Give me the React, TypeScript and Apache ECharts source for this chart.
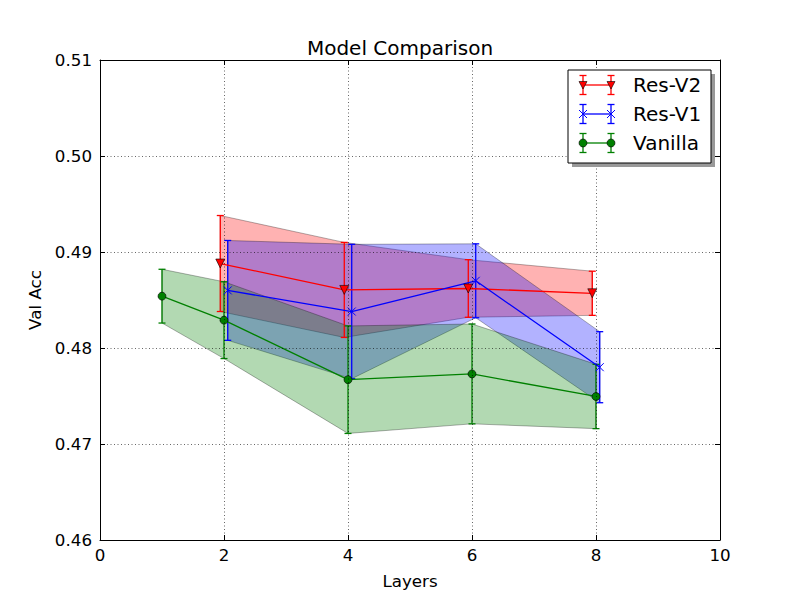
import React, { useEffect, useRef } from 'react';
import * as echarts from 'echarts';

const seriesNames = ['Res-V2', 'Res-V1', 'Vanilla'];

const resV2X = [1.94, 3.94, 5.94, 7.94];
const resV2Mean = [0.4888, 0.48605, 0.4862, 0.4857];
const resV2Err = [0.005, 0.00495, 0.003, 0.0023];

const resV1X = [2.06, 4.06, 6.06, 8.06];
const resV1Mean = [0.486, 0.4838, 0.487, 0.478];
const resV1Err = [0.0052, 0.007, 0.00385, 0.0037];

const vanillaX = [1, 2, 4, 6, 8];
const vanillaMean = [0.4854, 0.4829, 0.4767, 0.4773, 0.47495];
const vanillaErr = [0.0028, 0.004, 0.0056, 0.0052, 0.00335];

const xTicks = [0, 2, 4, 6, 8, 10];

const FONT = 'DejaVu Sans';

function bandSeries(name: string, xs: number[], mean: number[], err: number[], fill: string, z: number) {
  return {
    type: 'custom',
    name: name + '-band',
    z,
    silent: true,
    encode: { x: 0, y: 1 },
    data: xs.map((x, i) => [x, mean[i], err[i]]),
    renderItem: (params: any, api: any) => {
      if (params.dataIndex !== 0) return null;
      const upper = xs.map((x, i) => api.coord([x, mean[i] + err[i]]));
      const lower = xs.map((x, i) => api.coord([x, mean[i] - err[i]])).reverse();
      return {
        type: 'polygon',
        shape: { points: [...upper, ...lower] },
        style: { fill, stroke: 'rgba(0,0,0,0.3)', lineWidth: 1 },
      };
    },
  };
}

function errorSeries(name: string, xs: number[], mean: number[], err: number[], color: string, z: number) {
  return {
    type: 'custom',
    name: name + '-err',
    z,
    silent: true,
    encode: { x: 0, y: 1 },
    data: xs.map((x, i) => [x, mean[i], err[i]]),
    renderItem: (params: any, api: any) => {
      const x = api.value(0);
      const m = api.value(1);
      const e = api.value(2);
      const top = api.coord([x, m + e]);
      const bot = api.coord([x, m - e]);
      const c = 3.5;
      const st = { stroke: color, lineWidth: 1.3 };
      return {
        type: 'group',
        children: [
          { type: 'line', shape: { x1: top[0], y1: top[1], x2: bot[0], y2: bot[1] }, style: st },
          { type: 'line', shape: { x1: top[0] - c, y1: top[1], x2: top[0] + c, y2: top[1] }, style: st },
          { type: 'line', shape: { x1: bot[0] - c, y1: bot[1], x2: bot[0] + c, y2: bot[1] }, style: st },
        ],
      };
    },
  };
}

function legendEntry(y: number, color: string, kind: string, label: string) {
  const x1 = 583;
  const x2 = 611;
  const st = { stroke: color, lineWidth: 1.3 };
  const z = 12;
  const els: any[] = [
    { type: 'line', z, shape: { x1, y1: y, x2, y2: y }, style: st },
  ];
  [x1, x2].forEach((x) => {
    els.push({ type: 'line', z, shape: { x1: x, y1: y - 9.5, x2: x, y2: y + 9.5 }, style: st });
    els.push({ type: 'line', z, shape: { x1: x - 3.5, y1: y - 9.5, x2: x + 3.5, y2: y - 9.5 }, style: st });
    els.push({ type: 'line', z, shape: { x1: x - 3.5, y1: y + 9.5, x2: x + 3.5, y2: y + 9.5 }, style: st });
    if (kind === 'tri') {
      els.push({
        type: 'polygon',
        z: 13,
        shape: { points: [[x - 4, y - 3.5], [x + 4, y - 3.5], [x, y + 4]] },
        style: { fill: color, stroke: '#000', lineWidth: 0.6 },
      });
    } else if (kind === 'x') {
      els.push({ type: 'line', z: 13, shape: { x1: x - 4, y1: y - 4, x2: x + 4, y2: y + 4 }, style: { stroke: color, lineWidth: 1 } });
      els.push({ type: 'line', z: 13, shape: { x1: x - 4, y1: y + 4, x2: x + 4, y2: y - 4 }, style: { stroke: color, lineWidth: 1 } });
    } else {
      els.push({ type: 'circle', z: 13, shape: { cx: x, cy: y, r: 4 }, style: { fill: color, stroke: '#000', lineWidth: 0.6 } });
    }
  });
  els.push({
    type: 'text',
    z: 13,
    x: 633,
    y,
    style: { text: label, fontSize: 20, fontFamily: FONT, fill: '#000', verticalAlign: 'middle', align: 'left' },
  });
  return els;
}

export default function App() {
  const ref = useRef<HTMLDivElement>(null);
  useEffect(() => {
    document.body.style.margin = '0';
    if (!ref.current) return;
    const chart = echarts.init(ref.current, undefined, { renderer: 'svg' });
    const axisCommon = {
      min: 0,
      max: 10,
      interval: 2,
      axisLine: { show: true, onZero: false, lineStyle: { color: '#000', width: 1 } },
      axisTick: { show: true, inside: true, length: 5, lineStyle: { color: '#000' } },
    };
    const yCommon = {
      min: 0.46,
      max: 0.51,
      interval: 0.01,
      axisLine: { show: true, onZero: false, lineStyle: { color: '#000', width: 1 } },
      axisTick: { show: true, inside: true, length: 5, lineStyle: { color: '#000' } },
    };
    const gridLine = { show: true, lineStyle: { color: '#000', type: [1, 2.5], width: 0.6 } };
    const option: any = {
      animation: false,
      backgroundColor: '#fff',
      title: {
        text: 'Model Comparison',
        left: 'center',
        top: 33,
        textStyle: { fontFamily: FONT, fontSize: 20, fontWeight: 'normal', color: '#000' },
      },
      grid: { left: 100, right: 80, top: 60, bottom: 60 },
      xAxis: [
        {
          type: 'value',
          position: 'bottom',
          ...axisCommon,
          z: 5,
          name: 'Layers',
          nameLocation: 'middle',
          nameGap: 32,
          nameTextStyle: { fontFamily: FONT, fontSize: 16.7, color: '#000' },
          axisLabel: {
            show: true,
            margin: 6,
            fontFamily: FONT,
            fontSize: 16.7,
            color: '#000',
            formatter: (v: number) => String(v),
          },
          splitLine: gridLine,
        },
        {
          type: 'value',
          position: 'top',
          ...axisCommon,
          z: 5,
          axisLabel: { show: false },
          splitLine: { show: false },
        },
      ],
      yAxis: [
        {
          type: 'value',
          position: 'left',
          ...yCommon,
          z: 5,
          name: 'Val Acc',
          nameLocation: 'middle',
          nameGap: 55,
          nameTextStyle: { fontFamily: FONT, fontSize: 16.7, color: '#000' },
          axisLabel: {
            show: true,
            margin: 8,
            fontFamily: FONT,
            fontSize: 16.7,
            color: '#000',
            formatter: (v: number) => v.toFixed(2),
          },
          splitLine: gridLine,
        },
        {
          type: 'value',
          position: 'right',
          ...yCommon,
          z: 5,
          axisLabel: { show: false },
          splitLine: { show: false },
        },
      ],
      series: [
        bandSeries(seriesNames[0], resV2X, resV2Mean, resV2Err, 'rgba(255,0,0,0.3)', 1),
        bandSeries(seriesNames[1], resV1X, resV1Mean, resV1Err, 'rgba(0,0,255,0.3)', 1),
        bandSeries(seriesNames[2], vanillaX, vanillaMean, vanillaErr, 'rgba(0,128,0,0.3)', 1),
        errorSeries(seriesNames[0], resV2X, resV2Mean, resV2Err, '#ff0000', 3),
        {
          type: 'line',
          name: seriesNames[0],
          z: 3,
          data: resV2X.map((x, i) => [x, resV2Mean[i]]),
          symbol: 'triangle',
          symbolRotate: 180,
          symbolSize: 9,
          showAllSymbol: true,
          lineStyle: { color: '#ff0000', width: 1.3 },
          itemStyle: { color: '#ff0000', borderColor: '#000', borderWidth: 0.6 },
        },
        errorSeries(seriesNames[1], resV1X, resV1Mean, resV1Err, '#0000ff', 3),
        {
          type: 'line',
          name: seriesNames[1],
          z: 3,
          data: resV1X.map((x, i) => [x, resV1Mean[i]]),
          symbol: 'path://M0,0L10,10M10,0L0,10',
          symbolSize: 8,
          showAllSymbol: true,
          lineStyle: { color: '#0000ff', width: 1.3 },
          itemStyle: { color: 'none', borderColor: '#0000ff', borderWidth: 1 },
        },
        errorSeries(seriesNames[2], vanillaX, vanillaMean, vanillaErr, '#008000', 3),
        {
          type: 'line',
          name: seriesNames[2],
          z: 3,
          data: vanillaX.map((x, i) => [x, vanillaMean[i]]),
          symbol: 'circle',
          symbolSize: 8,
          showAllSymbol: true,
          lineStyle: { color: '#008000', width: 1.3 },
          itemStyle: { color: '#008000', borderColor: '#000', borderWidth: 0.6 },
        },
      ],
      graphic: [
        { type: 'rect', z: 10, shape: { x: 572, y: 74, width: 143, height: 93 }, style: { fill: '#999' } },
        { type: 'rect', z: 11, shape: { x: 568, y: 70, width: 143, height: 93 }, style: { fill: '#fff', stroke: '#000', lineWidth: 1 } },
        ...legendEntry(85, '#ff0000', 'tri', seriesNames[0]),
        ...legendEntry(114, '#0000ff', 'x', seriesNames[1]),
        ...legendEntry(143, '#008000', 'circle', seriesNames[2]),
      ],
    };
    chart.setOption(option);
    return () => chart.dispose();
  }, []);
  return <div ref={ref} style={{ width: 800, height: 600 }} />;
}
